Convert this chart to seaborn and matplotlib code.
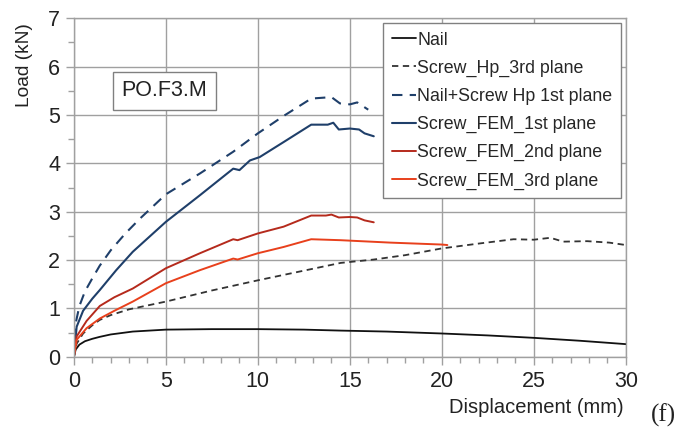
import matplotlib
matplotlib.use("Agg")
import matplotlib.pyplot as plt
from matplotlib.ticker import MultipleLocator
import seaborn as sns
import pandas as pd

# ---- data ----
nail_x = [0, 0.1, 0.3, 0.6, 1.0, 1.4, 2.0, 3.2, 5.0, 7.5, 10.0, 12.5, 14.5, 17.0, 20.0, 22.5, 25.0, 27.5, 30.0]
nail_y = [0, 0.15, 0.25, 0.32, 0.37, 0.41, 0.46, 0.52, 0.56, 0.57, 0.57, 0.56, 0.54, 0.52, 0.48, 0.44, 0.39, 0.33, 0.26]

hp3_x = [0, 0.15, 0.5, 1.0, 1.4, 2.0, 3.0, 5.0, 7.5, 10.0, 12.5, 14.5, 16.3, 18.0, 20.0, 22.0, 23.9, 25.0, 25.9, 26.6, 27.9, 29.1, 30.0]
hp3_y = [0, 0.27, 0.48, 0.65, 0.76, 0.86, 0.98, 1.14, 1.37, 1.58, 1.78, 1.94, 2.01, 2.10, 2.24, 2.34, 2.43, 2.42, 2.46, 2.38, 2.39, 2.36, 2.31]

nshp1_x = [0, 0.1, 0.3, 0.6, 1.0, 1.4, 2.0, 2.8, 3.6, 5.0, 6.85, 8.66, 10.0, 11.4, 12.9, 14.0, 14.46, 15.0, 15.4, 16.0]
nshp1_y = [0, 0.7, 1.05, 1.35, 1.62, 1.88, 2.2, 2.55, 2.86, 3.36, 3.79, 4.24, 4.62, 4.98, 5.34, 5.37, 5.24, 5.22, 5.26, 5.11]

fem1_x = [0, 0.15, 0.5, 1.0, 1.41, 2.3, 3.2, 5.0, 6.85, 8.66, 9.0, 9.57, 10.1, 11.4, 12.9, 13.8, 14.1, 14.4, 15.0, 15.5, 15.8, 16.3]
fem1_y = [0, 0.62, 0.95, 1.2, 1.38, 1.79, 2.17, 2.79, 3.34, 3.89, 3.86, 4.06, 4.13, 4.44, 4.80, 4.80, 4.84, 4.70, 4.72, 4.70, 4.62, 4.56]

fem2_x = [0, 0.15, 0.69, 1.41, 2.2, 3.2, 5.0, 6.85, 8.66, 8.9, 10.0, 11.4, 12.9, 13.7, 14.0, 14.4, 15.0, 15.4, 15.8, 16.3]
fem2_y = [0, 0.42, 0.74, 1.05, 1.23, 1.41, 1.83, 2.14, 2.43, 2.41, 2.55, 2.69, 2.92, 2.92, 2.94, 2.88, 2.89, 2.88, 2.82, 2.78]

fem3_x = [0, 0.15, 0.69, 1.41, 2.2, 3.2, 5.0, 6.85, 8.66, 8.9, 10.0, 11.4, 12.9, 14.5, 17.2, 20.0, 20.3]
fem3_y = [0, 0.35, 0.59, 0.79, 0.95, 1.14, 1.52, 1.79, 2.03, 2.01, 2.14, 2.27, 2.43, 2.41, 2.36, 2.32, 2.31]

labels = ["Nail", "Screw_Hp_3rd plane", "Nail+Screw Hp 1st plane",
          "Screw_FEM_1st plane", "Screw_FEM_2nd plane", "Screw_FEM_3rd plane"]
xs = [nail_x, hp3_x, nshp1_x, fem1_x, fem2_x, fem3_x]
ys = [nail_y, hp3_y, nshp1_y, fem1_y, fem2_y, fem3_y]

x_ticks = [0, 5, 10, 15, 20, 25, 30]
y_ticks = [0, 1, 2, 3, 4, 5, 6, 7]

colors = ["#111111", "#333333", "#1f3f6a", "#1f3f6a", "#b52a1c", "#e8401c"]
styles = [(None, None), (3.5, 2.5), (5, 3.5), (None, None), (None, None), (None, None)]
widths = [1.3, 1.3, 1.5, 1.5, 1.4, 1.4]

sns.set_theme(style="white")
plt.rcParams["font.family"] = ["Liberation Sans", "DejaVu Sans"]

fig = plt.figure(figsize=(6.78, 4.28), dpi=100)
ax = fig.add_axes([0.109, 0.1666, 0.814, 0.7906])

for lab, x, y, c, ds, w in zip(labels, xs, ys, colors, styles, widths):
    df = pd.DataFrame({"x": x, "y": y})
    sns.lineplot(data=df, x="x", y="y", ax=ax, color=c, linewidth=w,
                 label=lab, sort=False, estimator=None)
    if ds[0] is not None:
        ax.lines[-1].set_dashes(ds)

ax.set_xlim(0, 30)
ax.set_ylim(0, 7)
ax.set_xticks(x_ticks)
ax.set_yticks(y_ticks)
ax.xaxis.set_minor_locator(MultipleLocator(1))
ax.yaxis.set_minor_locator(MultipleLocator(0.5))
ax.grid(True, which="major", color="#a0a0a0", linewidth=1.0)
ax.set_axisbelow(True)
for s in ax.spines.values():
    s.set_color("#a0a0a0")
    s.set_linewidth(1.0)
ax.tick_params(which="both", direction="out", bottom=True, left=True)
ax.tick_params(which="major", length=6, width=1.0, labelsize=15.5,
               labelcolor="#222222", color="#a0a0a0", pad=4)
ax.tick_params(which="minor", length=4, width=1.0, color="#a0a0a0")

ax.set_xlabel("Displacement (mm)", fontsize=14.5, color="#222222")
ax.set_ylabel("Load (kN)", fontsize=13.8, color="#222222")
ax.xaxis.set_label_coords(0.837, -0.122)
ax.yaxis.set_label_coords(-0.075, 0.862)

leg = ax.legend(loc="upper right", bbox_to_anchor=(1.0, 1.0), fontsize=12.8,
                frameon=True, fancybox=False, edgecolor="#808080",
                handlelength=1.4, handletextpad=0.05, labelspacing=0.62,
                borderpad=0.5, borderaxespad=0.25)
leg.get_frame().set_linewidth(1.0)
leg.get_frame().set_alpha(1)

ax.text(4.9, 5.5, "PO.F3.M", fontsize=15.5, ha="center", va="center", color="#222222",
        bbox=dict(boxstyle="square,pad=0.4", facecolor="white", edgecolor="#808080", linewidth=1.0))

fig.text(0.978, 0.03, "(f)", fontsize=18, family=["Liberation Serif", "DejaVu Serif"],
         ha="center", va="center", color="#222222")

fig.savefig("out.png", dpi=100)
